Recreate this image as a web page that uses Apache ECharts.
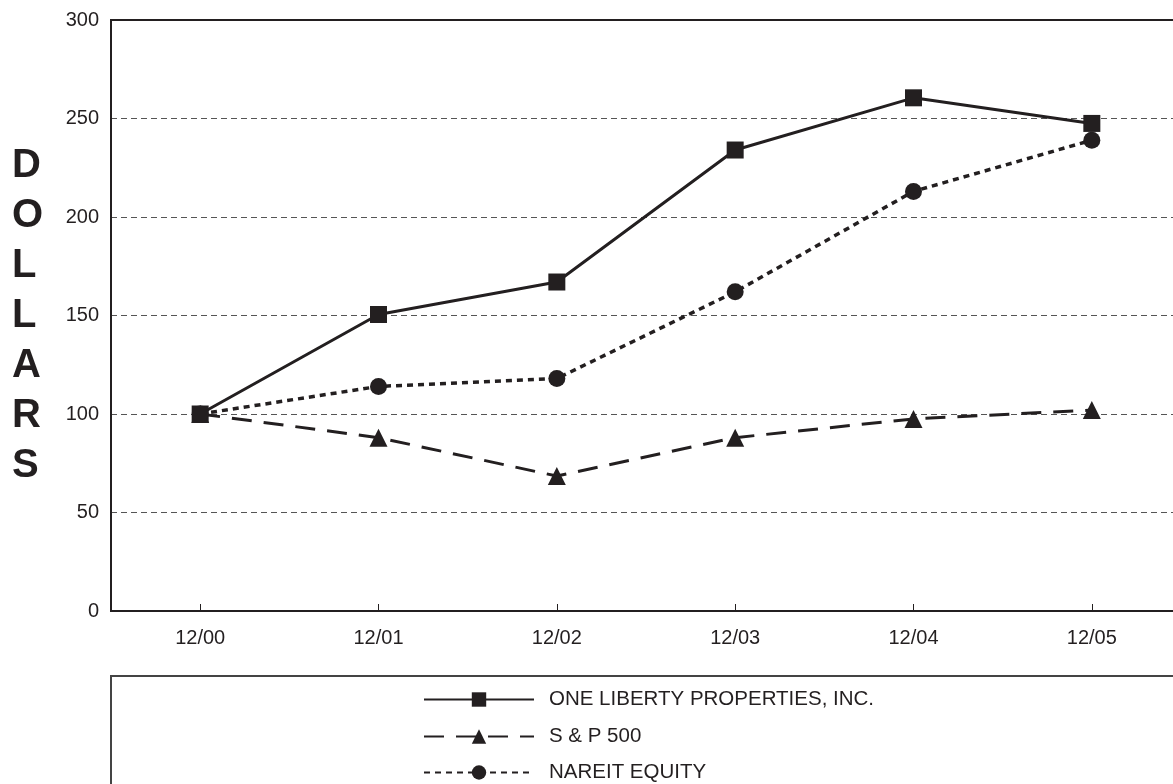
<!DOCTYPE html>
<html>
<head>
<meta charset="utf-8">
<script src="https://cdn.jsdelivr.net/npm/echarts@6/dist/echarts.min.js"></script>
<style>
html,body{margin:0;padding:0;background:#fff;overflow:hidden;}
#c{width:1173px;height:784px;}
</style>
</head>
<body>
<div id="c"></div>
<script>
const categories = ['12/00','12/01','12/02','12/03','12/04','12/05'];
const seriesNames = ['ONE LIBERTY PROPERTIES, INC.','S & P 500','NAREIT EQUITY'];
const oneLiberty = [100, 150.5, 167, 234, 260.5, 247.5];
const sp500 = [100, 88, 68.5, 88, 97.5, 102];
const nareit = [100, 114, 118, 162, 213, 239];
const yTicks = [0, 300, 50];

const FONT = '"Liberation Sans", Arial, Helvetica, sans-serif';
const INK = '#231f20';
const chart = echarts.init(document.getElementById('c'), null, {renderer:'canvas'});

function mkSeries(name, data, symbol, dash, width) {
  return {
    name: name, type: 'line', data: data,
    symbol: symbol, symbolSize: symbol === 'triangle' ? 18 : 17,
    showSymbol: true,
    lineStyle: {color: INK, width: width, type: dash},
    itemStyle: {color: INK},
    emphasis: {disabled: true},
    animation: false,
    z: 3
  };
}

function mkLegend(name, top) {
  return {
    orient: 'vertical', left: 423, top: top, padding: 0,
    itemWidth: 110, itemHeight: 18,
    data: [name],
    textStyle: {color: INK, fontFamily: FONT, fontSize: 20.5, padding: [0,0,0,10]},
    selectedMode: false
  };
}

chart.setOption({
  animation: false,
  backgroundColor: '#fff',
  grid: {left: 111, top: 20, bottom: 173, width: 1070, outerBoundsMode: 'none', containLabel: false, show: true, borderColor: INK, borderWidth: 2, backgroundColor: 'transparent', z: 2},
  xAxis: {
    type: 'category', data: categories, boundaryGap: true,
    axisLine: {show: true, lineStyle: {color: INK, width: 2}},
    axisTick: {show: true, inside: true, alignWithLabel: true, length: 7, lineStyle: {color: INK, width: 1}},
    axisLabel: {color: INK, fontFamily: FONT, fontSize: 20, margin: 17},
    splitLine: {show: false}
  },
  yAxis: {
    type: 'value', min: yTicks[0], max: yTicks[1], interval: yTicks[2],
    axisLine: {show: true, lineStyle: {color: INK, width: 2}},
    axisTick: {show: false},
    axisLabel: {color: INK, fontFamily: FONT, fontSize: 20, margin: 12},
    splitLine: {show: true, lineStyle: {color: '#555', width: 1.2, type: [6, 4]}}
  },
  legend: [
    mkLegend(seriesNames[0], 689),
    mkLegend(seriesNames[1], 726),
    mkLegend(seriesNames[2], 762)
  ],
  graphic: [
    {type: 'rect', shape: {x: 111, y: 676, width: 1100, height: 200}, style: {fill: 'none', stroke: '#444', lineWidth: 2}, z: 0},
    {type: 'text', left: 12, top: 141, style: {text: 'D\nO\nL\nL\nA\nR\nS', font: 'bold 40px ' + FONT, fill: INK, lineHeight: 50, align: 'center', width: 40}, z: 5}
  ],
  series: [
    mkSeries(seriesNames[0], oneLiberty, 'rect', 'solid', 3),
    mkSeries(seriesNames[1], sp500, 'triangle', [20, 12], 3),
    mkSeries(seriesNames[2], nareit, 'circle', [6, 5], 3.5)
  ]
});
</script>
</body>
</html>
